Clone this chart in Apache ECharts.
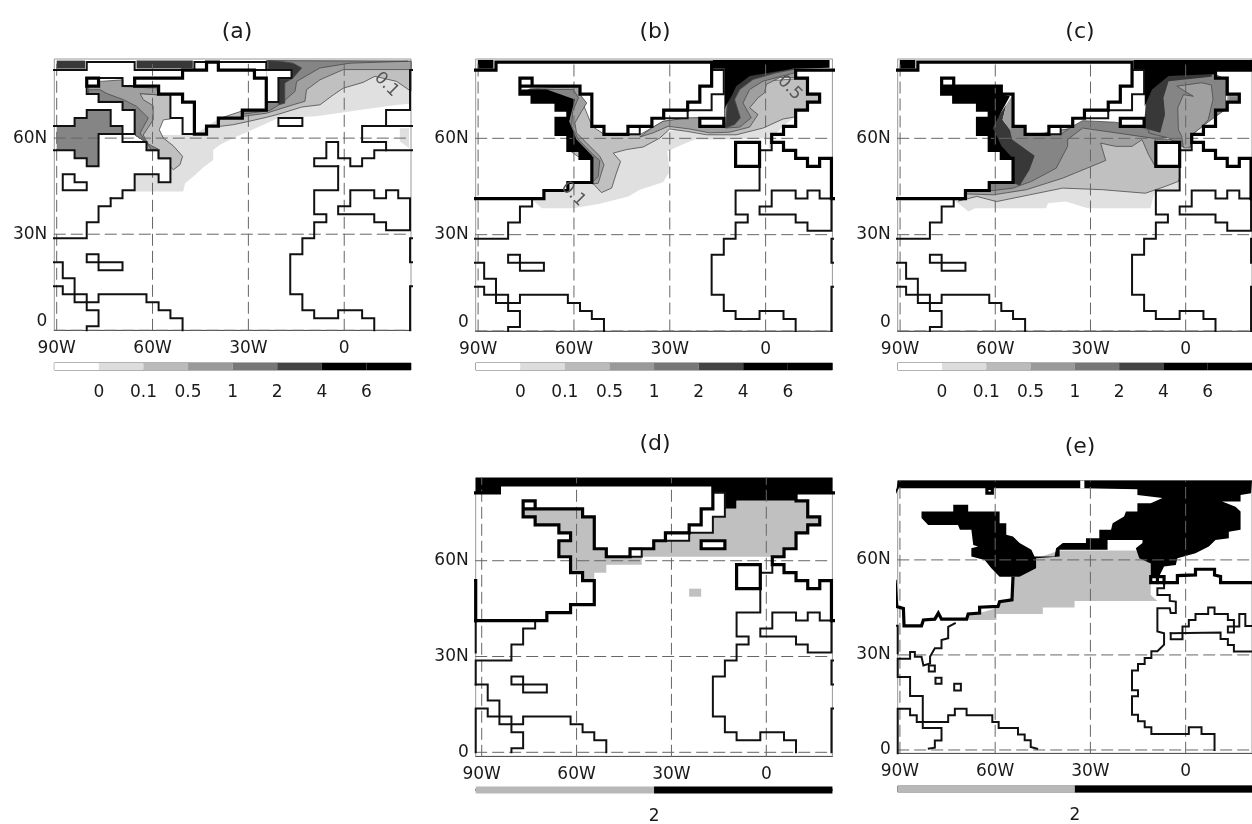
<!DOCTYPE html>
<html><head><meta charset="utf-8">
<style>html,body{margin:0;padding:0;background:#fff;overflow:hidden}#c{width:1252px;height:824px}</style>
<script src="https://cdn.jsdelivr.net/npm/echarts@6/dist/echarts.min.js"></script>
</head><body><div id="c"></div>
<script>
// ---------- tick values / labels ----------
const lonTicks=[-90,-60,-30,0], lonLabels=['90W','60W','30W','0'];
const latTicks=[0,30,60], latLabels=['0','30N','60N'];
const barLabels=['0','0.1','0.5','1','2','4','6'];
const barLabels2=['2'];
const panelNames=['(a)','(b)','(c)','(d)','(e)'];
const barUnits=[1,1,1,1,1,1,1,1];
const barUnits2=[1,1];

// ---------- shared coastlines, [lon,lat] ----------
const coastCarib=[[-91.9,21.25],[-88.1,21.25],[-88.1,16.25],[-84.4,16.25],[-84.4,8.75],[-76.9,8.75],[-76.9,11.25],[-61.9,11.25],[-61.9,8.75],[-58.1,8.75],[-58.1,6.25],[-54.4,6.25],[-54.4,3.75],[-50.6,3.75],[-50.6,0]];
const coastPacific=[[-91.9,0],[-91.9,13.75],[-88.1,13.75],[-88.1,11.25],[-80.6,11.25],[-80.6,6.25],[-76.9,6.25],[-76.9,1.25],[-80.6,1.25],[-80.6,0]];
const coastGulf=[[-73.1,41.25],[-73.1,38.75],[-76.9,38.75],[-76.9,33.75],[-80.6,33.75],[-80.6,28.75],[-91.9,28.75],[-91.9,21.25]];
const coastCuba=[[-80.6,23.75],[-76.9,23.75],[-76.9,21.25],[-69.4,21.25],[-69.4,18.75],[-76.9,18.75],[-76.9,21.25],[-80.6,21.25],[-80.6,23.75]];
const coastAfrica=[[9.4,0],[9.4,3.75],[5.6,3.75],[5.6,6.25],[-1.9,6.25],[-1.9,3.75],[-9.4,3.75],[-9.4,6.25],[-13.1,6.25],[-13.1,11.25],[-16.9,11.25],[-16.9,23.75],[-13.1,23.75],[-13.1,28.75],[-9.4,28.75],[-9.4,33.75],[-5.6,33.75],[-5.6,36.25],[-9.4,36.25],[-9.4,43.75],[-1.9,43.75],[-1.9,51.25]];
const coastMed=[[-1.9,38.75],[1.9,38.75],[1.9,43.75],[9.4,43.75],[9.4,41.25],[13.1,41.25],[13.1,43.75],[16.9,43.75],[16.9,41.25],[20.6,41.25],[20.6,31.25],[13.1,31.25],[13.1,33.75],[9.4,33.75],[9.4,36.25],[-1.9,36.25],[-1.9,38.75]];
const stubRightA=[[22.5,28.75],[20.6,28.75],[20.6,21.25],[22.5,21.25]];
const stubRightB=[[22.5,13.75],[20.6,13.75],[20.6,0]];
const stubLeft=[[-93.4,41.25],[-91.9,41.25],[-91.9,31.25]];

// ---------- panel (a) coast ----------
const aCoastLabrador=[[-73.1,41.25],[-69.4,41.25],[-69.4,43.75],[-65.6,43.75],[-65.6,48.75],[-58.1,48.75],[-58.1,46.25],[-54.4,46.25],[-54.4,53.75],[-58.1,53.75],[-58.1,56.25],[-61.9,56.25],[-61.9,58.75],[-69.4,58.75],[-69.4,61.25],[-76.9,61.25],[-76.9,51.25],[-80.6,51.25],[-80.6,53.75],[-84.4,53.75],[-84.4,56.25],[-91.9,56.25],[-91.9,53.75],[-93.4,53.75]];
const aCoastHudson=[[-93.4,63.75],[-84.4,63.75],[-84.4,66.25],[-80.6,66.25],[-80.6,68.75],[-73.1,68.75],[-73.1,63.75],[-69.4,63.75],[-69.4,61.25]];
const aCoastArctic=[[-93.4,68.75],[-91.9,68.75],[-91.9,81.25],[-80.6,81.25],[-80.6,83.75],[-65.6,83.75],[-65.6,81.25],[-50.6,81.25]];
const aCoastNfld=[[-88.1,48.75],[-84.4,48.75],[-84.4,46.25],[-80.6,46.25],[-80.6,43.75],[-88.1,43.75],[-88.1,48.75]];
const aCoastBaffin=[[-80.6,76.25],[-80.6,73.75],[-76.9,73.75],[-76.9,71.25],[-69.4,71.25],[-69.4,68.75],[-65.6,68.75],[-65.6,61.25],[-69.4,61.25]];
const aCoastBaffinTop=[[-76.9,78.75],[-69.4,78.75],[-69.4,76.25],[-65.6,76.25]];
const aCoastGreenW=[[-54.4,73.75],[-54.4,66.25],[-50.6,66.25],[-50.6,61.25],[-46.9,61.25]];
const aCoastGreenE=[[-46.9,81.25],[-46.9,83.75],[-43.1,83.75]];
const aCoastGreenTop=[[-39.4,83.75],[-24.4,83.75],[-24.4,81.25],[-16.5,81.25],[-16.5,78.75],[-20.6,78.75],[-20.6,71.25],[-24.4,71.25]];
const aCoastGreenTop2=[[-28.1,81.25],[-24.4,81.25]];
const aCoastIceland=[[-20.6,66.25],[-13.1,66.25],[-13.1,63.75],[-20.6,63.75],[-20.6,66.25]];
const aCoastEurope=[[-1.9,51.25],[-9.4,51.25],[-9.4,53.75],[-5.6,53.75],[-5.6,58.75],[-1.9,58.75],[-1.9,53.75],[1.9,53.75],[1.9,51.25],[5.6,51.25],[5.6,53.75],[9.4,53.75],[9.4,56.25],[13.1,56.25],[13.1,58.75],[5.6,58.75],[5.6,63.75],[13.1,63.75],[13.1,68.75],[20.6,68.75],[20.6,81.25],[22.5,81.25]];
const aCoastEurope2=[[13.1,56.25],[22.5,56.25]];
const aCoastEurope3=[[13.1,63.75],[22.5,63.75]];
const aThickGreen=[[-65.6,78.75],[-65.6,76.25],[-58.1,76.25],[-58.1,73.75],[-50.6,73.75],[-50.6,71.25],[-46.9,71.25],[-46.9,61.25],[-43.1,61.25],[-43.1,63.75],[-39.4,63.75],[-39.4,66.25],[-31.9,66.25],[-31.9,68.75],[-24.4,68.75],[-24.4,78.75],[-28.1,78.75],[-28.1,81.25],[-39.4,81.25],[-39.4,83.75],[-43.1,83.75],[-43.1,81.25],[-50.6,81.25],[-50.6,78.75],[-65.6,78.75]];
const aThickBox=[[-80.6,78.75],[-76.9,78.75],[-76.9,76.25],[-80.6,76.25],[-80.6,78.75]];

// ---------- panels (b)(c)(d) coast ----------
const bThickWest=[[-93.75,81.25],[-84.4,81.25],[-84.4,83.75],[-16.9,83.75],[-16.9,76.25],[-20.6,76.25],[-20.6,71.25],[-24.4,71.25],[-24.4,68.75],[-31.9,68.75],[-31.9,66.25],[-35.6,66.25],[-35.6,63.75],[-43.1,63.75],[-43.1,61.25],[-50.6,61.25],[-50.6,63.75],[-54.4,63.75],[-54.4,73.75],[-58.1,73.75],[-58.1,76.25],[-76.9,76.25],[-76.9,78.75],[-73.1,78.75],[-73.1,76.25],[-76.9,76.25],[-76.9,73.75],[-73.1,73.75],[-73.1,71.25],[-65.6,71.25],[-65.6,68.75],[-61.9,68.75],[-61.9,66.25],[-65.6,66.25],[-65.6,61.25],[-61.9,61.25],[-61.9,56.25],[-58.1,56.25],[-58.1,53.75],[-54.4,53.75],[-54.4,46.25],[-61.9,46.25],[-61.9,43.75],[-69.4,43.75],[-69.4,41.25],[-93.75,41.25]];
const bThickLeft=[[-91.9,41.25],[-91.9,53.75],[-93.75,53.75]];
const bThickEast=[[22.5,81.25],[9.4,81.25],[9.4,78.75],[13.1,78.75],[13.1,73.75],[16.9,73.75],[16.9,71.25],[13.1,71.25],[13.1,68.75],[9.4,68.75],[9.4,63.75],[5.6,63.75],[5.6,61.25],[1.9,61.25],[1.9,58.75],[5.6,58.75],[5.6,56.25],[9.4,56.25],[9.4,53.75],[13.1,53.75],[13.1,51.25],[16.9,51.25],[16.9,53.75],[20.6,53.75],[20.6,41.25],[22.5,41.25]];
const bThickIceland=[[-20.6,66.25],[-13.1,66.25],[-13.1,63.75],[-20.6,63.75],[-20.6,66.25]];
const bThickUK=[[-9.4,58.75],[-1.9,58.75],[-1.9,51.25],[-9.4,51.25],[-9.4,58.75]];
const bThinGreen=[[-16.9,81.25],[-13.1,81.25],[-13.1,73.75],[-16.9,73.75],[-16.9,68.75],[-24.4,68.75]];
const bThinBox=[[-31.9,68.75],[-24.4,68.75],[-24.4,66.25],[-31.9,66.25],[-31.9,68.75]];
const bThinSmall=[[-43.1,63.75],[-39.4,63.75],[-39.4,61.25],[-43.1,61.25]];
const bThinFaroe=[[-1.9,56.25],[1.9,56.25],[1.9,58.75]];
const maskGreen=[[-16.9,81.25],[-13.1,81.25],[-13.1,73.75],[-16.9,73.75],[-16.9,68.75],[-24.4,68.75],[-24.4,71.25],[-20.6,71.25],[-20.6,76.25],[-16.9,76.25]];
const maskBox=[[-31.9,68.75],[-24.4,68.75],[-24.4,66.25],[-31.9,66.25]];
const maskSmall=[[-43.1,63.75],[-39.4,63.75],[-39.4,61.25],[-43.1,61.25]];
const maskTopBox=[[-76.9,78.75],[-73.1,78.75],[-73.1,76.25],[-76.9,76.25]];
const maskIceland=[[-20.6,66.25],[-13.1,66.25],[-13.1,63.75],[-20.6,63.75]];
const maskUK=[[-9.4,58.75],[-1.9,58.75],[-1.9,51.25],[-9.4,51.25]];

// ---------- panel (a) shading ----------
const aL1=[[-69.1,43.3],[-50.4,43.3],[-49.8,45.9],[-46.7,48.5],[-44.1,50.9],[-41,53.2],[-41,56.4],[-38.9,57.9],[-34.7,60],[-30,62.1],[-25.3,64.2],[-20.6,66.3],[-8.7,66.8],[5.9,68.9],[16.9,70.4],[20.9,70.7],[20.9,81.4],[-24.3,81.4],[-24.3,68.9],[-31.6,68.6],[-39.4,66],[-43.1,63.6],[-46.9,61],[-57.7,61],[-54.4,53.5],[-54.4,45.9],[-57.9,45.9],[-57.9,48.5],[-65.5,48.5],[-65.5,43.5]];
const aL1b=[[17.4,63.1],[20.3,63.1],[20.3,56.9],[17.4,59]];
const aW2=[[-63.9,73.9],[-58.2,73.5],[-54.4,73.5],[-54.4,66],[-56.6,65.7],[-57.9,62.6],[-56.6,60],[-53.5,57.6],[-50.6,54.3],[-51.4,51.7],[-53.5,50.1],[-54.4,51.1],[-54.4,53.5],[-58.3,53.5],[-58.3,56.1],[-61.8,56.1],[-61.8,58.6],[-65.5,61],[-65.5,68.9]];
const aW3=[[-76.4,77.7],[-69.3,78.2],[-69.3,76.1],[-58.7,75.6],[-58.2,73.5],[-63.9,73.9],[-62.9,72],[-59.8,70.1],[-59.8,65.7],[-62.9,61],[-61.3,57.9],[-58.7,56.1],[-61.8,56.1],[-61.8,58.6],[-65.5,61],[-65.5,68.9],[-69.3,68.9],[-69.3,71.5],[-76.7,71.5],[-76.7,73.8],[-80,73.8],[-80,76.1]];
const aW4=[[-76.4,75.1],[-74.3,73.9],[-69.1,72],[-65,69.9],[-61.3,66.3],[-63.9,61.6],[-61.8,58.4],[-58.3,56.6],[-60.3,56.1],[-61.8,58.6],[-65.5,61],[-65.5,68.9],[-69.3,68.9],[-69.3,71.5],[-76.7,71.5],[-76.7,73.8],[-80,73.8],[-80,75.1]];
const aE2=[[-39.4,63.6],[-34.7,64.2],[-30,65.2],[-24.3,66.5],[-20.1,67.6],[-13.3,69.7],[-7.6,70.4],[-3.4,73.5],[-0.3,75.6],[5.9,77.4],[9.6,79.3],[16.4,77.7],[20.9,74.6],[20.9,84],[-24.3,84],[-24.3,68.6],[-31.6,68.6],[-39.4,66]];
const aE3=[[-31.6,68.6],[-31.6,66.8],[-24.3,67.8],[-16,70.4],[-12.3,71.5],[-11.8,75.1],[-7.6,78.2],[-0.3,81.4],[20.9,81.4],[20.9,84],[-24.3,84],[-24.3,68.6]];
const aE4=[[-31.6,68.6],[-31.6,67.5],[-23.3,68.6],[-19.6,70.9],[-15.4,74.6],[-14.9,77.7],[-7.6,81.9],[1.8,83.4],[20,84],[-24.3,84.2],[-24.3,68.6]];
const aE5=[[-23.8,84.2],[-20.1,84],[-16,83.4],[-13.3,81.9],[-16,78.8],[-18.6,77.2],[-18.6,70.9],[-20.6,70.4],[-20.6,78.5],[-16.5,78.5],[-16.5,81.1],[-23.8,81.1]];
const aHudson=[[-90,63.75],[-84.4,63.75],[-84.4,66.25],[-80.6,66.25],[-80.6,68.75],[-73.1,68.75],[-73.1,63.75],[-69.4,63.75],[-69.4,61.25],[-76.9,61.25],[-76.9,51.25],[-80.6,51.25],[-80.6,53.75],[-84.4,53.75],[-84.4,56.25],[-90,56.25]];
const aStripW=[[-90,84.2],[-81.1,84.2],[-81.1,81.7],[-90,81.7]];
const aStripM=[[-65,84.2],[-47.4,84.2],[-47.4,81.7],[-65,81.7]];
const aMaskGreen=[[-24.4,81.25],[-16.5,81.25],[-16.5,78.75],[-20.6,78.75],[-20.6,71.25],[-24.4,71.25]];

// ---------- panel (b) shading ----------
const bL1=[[-73.2,41],[-70.1,38.2],[-60.2,38.2],[-51.9,39.6],[-43,41.9],[-39.4,44],[-32.1,46.3],[-30,49.7],[-30.8,55.9],[-26.9,57.7],[-22.2,59.6],[-13.3,59.6],[1,60],[1,57],[1.8,57],[2.3,60.6],[5.4,63.75],[9.3,66.7],[-11.3,66.7],[-32.1,61.7],[-54.3,53.3],[-54.3,46.25],[-61.9,46.25],[-61.9,43.75],[-69.4,43.75],[-69.4,41.25]];
const bL2=[[-54.3,46.25],[-51.4,43.1],[-48.2,44.5],[-46.7,49.2],[-45.4,52.8],[-47.7,55.4],[-43.5,56.5],[-38.3,57.3],[-33.1,60.1],[-30,62.9],[-24.8,62.2],[-18.5,61.1],[-9.2,61.1],[-0.8,63.2],[5.4,66],[9.3,66.7],[9.3,69],[13,69],[13,71.4],[16.9,71.4],[16.9,74],[13,74],[13,78.5],[9.3,78.5],[-0.8,77.8],[-12.8,70],[-12.8,63.75],[-20.6,63.75],[-20.6,66.4],[-32.1,65.3],[-39.4,61.1],[-50.3,61.1],[-54.3,63.75],[-58.1,73.1],[-61.8,66.4],[-61.8,56.5],[-58.1,53.9],[-54.3,53.9]];
const bE3=[[-39.4,60.4],[-35.2,61.7],[-30.5,63.75],[-23.75,62.9],[-17.5,61.7],[-11.25,61.9],[-5,63.5],[-2.4,67.4],[-5,69.5],[-2.4,72.6],[-0.3,74.2],[0.2,76.8],[4.4,78.9],[9.3,78.9],[9.3,81.5],[-16.5,81.5],[-12.8,74.2],[-12.8,63.75],[-20.6,63.75],[-20.6,66.4],[-24.3,66.4],[-32.1,65.3],[-35.7,63.2]];
const bE4=[[-12.5,63.2],[-8.1,63.5],[-4.5,66.4],[-7.1,71],[-5,75.2],[-0.8,77.8],[9.1,80.4],[9.1,81.5],[-11.25,81.5]];
const bE5=[[-12.5,63.2],[-9.7,64.3],[-7.9,66.4],[-9.7,72.1],[-8.1,75.2],[-4,78.3],[3.3,80.4],[9.1,81.5],[-11.25,81.5]];
const bBlackE=[[-16.5,84.4],[20,84.4],[20,82],[8.5,81.7],[-5,79.4],[-9.2,76.25],[-10.7,73.1],[-12.5,70],[-12.8,69],[-12.8,81.7],[-16.5,81.7]];
const cornerBlack=[[-90.1,84.4],[-85.2,84.4],[-85.2,81.7],[-90.1,81.7]];
const bW3=[[-73.75,75.4],[-58.1,76.25],[-58.1,73.65],[-56,71],[-57.6,68.4],[-59.7,64.8],[-59.2,61.7],[-55,57.5],[-51.9,54.4],[-50.6,51.8],[-52.4,46],[-54.3,45.8],[-54.3,53.9],[-58.1,53.9],[-58.1,56.5],[-61.8,56.5],[-61.8,69],[-65.4,71.6],[-73,71.6],[-73,74],[-76.4,74]];
const bW4=[[-73.75,75.2],[-60.2,75.2],[-58.6,72.6],[-60.4,68.4],[-60.7,63.75],[-58.6,59.6],[-54,54.9],[-51.9,53.1],[-52.4,48.1],[-54.3,46.25],[-54.3,53.9],[-58.1,53.9],[-58.1,56.5],[-61.8,56.5],[-61.8,69],[-65.4,71.6],[-73,71.6],[-73,74],[-76.4,74]];
const bW5=[[-76.4,75.2],[-68.5,75.2],[-61.25,72.6],[-59.7,72.1],[-61.5,65.3],[-59.2,59.6],[-54.3,54.6],[-54.3,53.9],[-58.1,53.9],[-58.1,56.5],[-61.9,56.25],[-61.9,61.25],[-65.6,61.25],[-65.6,66.25],[-61.9,66.25],[-61.9,68.75],[-65.6,68.75],[-65.6,71.25],[-73.1,71.25],[-73.1,73.75],[-76.9,73.75]];

// ---------- panel (c) shading ----------
const cL1=[[-73.1,40.8],[-68.4,37.2],[-66.4,38.2],[-44,38.2],[-43.4,39.8],[-37.7,40.3],[-30.9,38.2],[-11.1,38.2],[-9.6,44],[-2.3,44],[-1.25,56.5],[1.4,57],[1.9,61.1],[9.2,66.9],[12.6,78.5],[-11.7,80.4],[-13.2,63.2],[-32.5,64.8],[-54.7,59.6],[-54.4,46.25],[-61.9,46.25],[-61.9,43.75],[-69.4,43.75],[-69.4,41.25]];
const cL2=[[-71.6,40.5],[-65.8,41.9],[-59.6,40.3],[-49.2,42.4],[-38.75,44.5],[-26.25,44],[-12.7,42.9],[-6.5,45],[-2.3,46.6],[-1.8,48.1],[-2.3,59.6],[-9.6,59.6],[-32.5,63.75],[-54.7,59.6],[-54.4,46.25],[-61.9,46.25],[-61.9,43.75],[-69.4,43.75],[-69.4,41.25]];
const cL3=[[-69.5,42.7],[-60.6,42.4],[-50.2,44],[-38.75,47.6],[-25.2,53.1],[-26.8,58.5],[-22.1,57.5],[-16.9,57.5],[-13.75,59.6],[-11.7,54.9],[-9.6,51.25],[-9.6,60],[-32.5,63.75],[-54.7,59.6],[-54.4,46.25],[-61.9,46.25],[-61.9,43.75],[-69.4,43.75]];
const cW4=[[-60.6,64.8],[-54.4,63.75],[-50.6,63.75],[-50.6,61.25],[-43.1,61.25],[-39.4,61.25],[-35.6,63.75],[-32.5,65.5],[-22.1,65],[-13.2,63.2],[-5.9,60.1],[-10.1,60],[-32.5,63.2],[-37.2,59.6],[-37.2,57.5],[-40.8,50.7],[-48.6,46.6],[-54.4,44.5],[-60.6,43.75],[-61.9,43.75],[-61.9,46.25],[-54.4,46.25],[-54.4,53.75],[-58.1,53.75],[-58.1,56.25],[-61.9,56.25],[-61.9,61.25]];
const cW5=[[-56.5,70.5],[-57.7,65.8],[-55.4,62.7],[-54.7,59.6],[-47.6,54.6],[-49.2,50.2],[-52.3,45.2],[-54.7,46.25],[-54.4,53.75],[-58.1,53.75],[-58.1,56.25],[-61.9,56.25],[-61.9,61.25],[-61.1,63.75]];
const cWBlack=[[-76.9,76.25],[-58.1,76.25],[-58.1,73.75],[-55.4,73.1],[-58,68.4],[-60.8,63.2],[-58,57.5],[-54.4,53.75],[-58.1,53.75],[-58.1,56.25],[-61.9,56.25],[-61.9,61.25],[-65.6,61.25],[-65.6,66.25],[-61.9,66.25],[-61.9,68.75],[-65.6,68.75],[-65.6,71.25],[-73.1,71.25],[-73.1,73.75],[-76.9,73.75]];
const cWStrip=[[-56.5,70.5],[-54.4,73.75],[-54.4,63.75],[-55.4,62.7],[-57.7,65.8]];
const cE4=[[-11.7,61.7],[-5.4,60.1],[-1.25,57.5],[1.4,57],[1.9,61.1],[5,63.5],[8.9,66.4],[12.6,69],[12.6,78.5],[8.9,80],[-4,80],[-10,75]];
const cE3=[[-1.25,60.6],[-2.3,62.7],[-2.5,69.5],[-0.7,73.6],[2.4,73.1],[-2.8,76.25],[5,77.3],[8.1,76.6],[8.6,72.1],[7.1,65.8],[5,63.5],[1.9,61.1],[1.4,57],[-0.7,57]];
const cE5=[[-13.2,63.2],[-8,61.7],[-6.5,67.4],[-7,72.6],[-5.4,77.8],[8.1,79.2],[8.9,81.25],[-11.7,81.25]];
const cEBlack=[[-16.4,84.4],[20.9,84.4],[20.9,81.25],[9.4,81.25],[9.4,80],[-5.4,79.4],[-10.6,75.2],[-12.9,70],[-12.9,81.25],[-16.4,81.25]];
const cNotch=[[13.1,73.75],[16.9,73.75],[16.9,71.25],[13.1,71.25]];
const cNotchIn=[[13.8,73],[16.6,73],[16.6,71.9],[13.8,71.9]];

// ---------- panel (d) shading ----------
const dBlack=[[-91.9,86],[20.9,86],[20.9,81.25],[9.4,81.25],[9.4,78.75],[-9.4,78.75],[-9.4,76.25],[-13.1,76.25],[-13.1,81.25],[-16.9,81.25],[-16.9,83.75],[-84.4,83.75],[-84.4,81.25],[-91.9,81.25]];
const dGrayW=[[-76.9,76.25],[-58.1,76.25],[-58.1,73.75],[-54.4,73.75],[-54.4,63.75],[-50.6,63.75],[-50.6,61.25],[-39.4,61.25],[-39.4,58.75],[-50.6,58.75],[-50.6,56.25],[-54.4,56.25],[-54.4,53.75],[-58.1,53.75],[-58.1,56.25],[-61.9,56.25],[-61.9,61.25],[-65.6,61.25],[-65.6,66.25],[-61.9,66.25],[-61.9,68.75],[-65.6,68.75],[-65.6,71.25],[-73.1,71.25],[-73.1,73.75],[-76.9,73.75]];
const dGrayE=[[-39.4,61.25],[-39.4,63.75],[-35.6,63.75],[-35.6,66.25],[-31.9,66.25],[-24.4,66.25],[-24.4,68.75],[-16.9,68.75],[-16.9,73.75],[-13.1,73.75],[-13.1,76.25],[-9.4,76.25],[-9.4,78.75],[9.4,78.75],[13.1,78.75],[13.1,73.75],[16.9,73.75],[16.9,71.25],[13.1,71.25],[13.1,68.75],[9.4,68.75],[9.4,63.75],[5.6,63.75],[5.6,61.25]];
const dGraySpot=[[-24.4,51.25],[-20.6,51.25],[-20.6,48.75],[-24.4,48.75]];

// ---------- panel (e) ----------
const eBlack=[[-90.7,85.05],[20.9,85.05],[20.6,81.05],[17.3,80.5],[17.3,78.4],[11.5,78.4],[15.7,76.8],[17.3,75.3],[17.3,69.5],[13.6,68.9],[13.6,66.8],[9.4,66.3],[7.3,64.2],[3.1,62.1],[-2.6,60.5],[-3.1,58.4],[-6.8,57.9],[-8.4,54.7],[-11,54.7],[-11,58.9],[-14.6,60.5],[-15.7,63.7],[-13.6,65.3],[-13.6,66.3],[-24.6,66.3],[-24.6,63.2],[-39.7,63.2],[-39.7,61.05],[-47.1,60.5],[-47.1,57.4],[-52.3,54.7],[-58.6,54.7],[-61.2,57.4],[-63.3,60],[-67.5,61.05],[-67.5,63.7],[-65.4,64.2],[-66.9,64.7],[-67.5,69.5],[-71.1,69.5],[-71.7,71.05],[-81.1,71.05],[-83.2,73.2],[-83.2,75.3],[-73.2,75.3],[-73.2,77.4],[-68.5,77.4],[-68.5,75.3],[-58.6,75.3],[-58.6,71.6],[-56.5,71.6],[-56.5,67.9],[-54.4,67.4],[-52.3,65.3],[-48.6,63.2],[-47.6,61.05],[-41.3,61.05],[-40.8,63.7],[-38.7,65.3],[-31.4,65.3],[-31.4,66.8],[-27.2,66.8],[-27.2,69.5],[-23.5,69.5],[-23,71.6],[-19.4,73.7],[-18.8,75.3],[-15.2,75.3],[-15.2,77.9],[-11,77.9],[-7.3,79.5],[-15.2,80.5],[-15.2,82.3],[-32.4,82.6],[-91,82.6]];
const eGray=[[-68.5,41.05],[-59.6,41.05],[-59.6,42.95],[-45,42.95],[-45,44.95],[-35,44.95],[-35,47.05],[-8.9,47.05],[-11,48.95],[-11,58.9],[-15.7,63],[-39.7,63],[-47.1,60.5],[-47.1,57.4],[-52.3,54.7],[-54.4,54.7],[-54.9,47.9],[-58.6,46.8],[-59.6,44.7],[-64.9,43.2],[-68.5,43]];
const eMaskNotch=[[-33.2,85.05],[-31.9,85.05],[-31.9,82.6],[-33.2,82.6]];
const eRing=[[-62.6,82.6],[-60.9,82.6],[-60.9,81.05],[-62.6,81.05],[-62.6,82.6]];
const eThickNA=[[-91.5,53.2],[-91,45.3],[-88.9,44.7],[-88.7,39.2],[-83.2,39.2],[-82.6,41.05],[-79,41.3],[-77.9,43.2],[-76.9,41.3],[-69,41.3],[-68.5,42.95],[-64.9,43.2],[-64.9,45.05],[-59.1,45.3],[-58.6,46.8],[-54.7,47.4],[-54.4,54.2]];
const eLeft=[[-91.5,39.2],[-90.7,39.2],[-90.7,30.5]];
const eStubTop=[[-91.5,81],[-90.7,82.6]];
const eGulf=[[-72.7,40],[-74.8,38.9],[-74.8,35.3],[-76.9,34.7],[-76.9,32.1],[-79,32.1],[-80.5,29.5],[-80.5,27.3],[-81.1,26.7],[-82.6,26.7],[-83.2,29.4],[-85.3,29.4],[-85.3,30.9],[-86.8,30.9],[-86.8,28.8],[-90.7,28.8],[-90.7,23.05],[-86.8,23.05],[-86.8,17],[-82.8,17],[-82.8,6.9],[-76.9,6.9],[-76.9,3],[-79,3],[-79,0.7],[-80.9,0.4]];
const eIsle1=[[-80.9,26.7],[-79,26.7],[-79,24.8],[-80.9,24.8],[-80.9,26.7]];
const eIsle2=[[-78.8,22.8],[-76.9,22.8],[-76.9,20.9],[-78.8,20.9],[-78.8,22.8]];
const eIsle3=[[-72.9,20.9],[-70.8,20.9],[-70.8,18.8],[-72.9,18.8],[-72.9,20.9]];
const eSouthAm=[[-90.7,-1.05],[-90.7,13.05],[-86.8,13.05],[-86.8,10.95],[-84.7,10.95],[-84.7,8.85],[-74.8,8.85],[-74.8,10.95],[-72.7,10.95],[-72.7,13.05],[-69,13.05],[-69,10.95],[-60.9,10.95],[-60.9,8.85],[-58.9,8.85],[-58.9,6.95],[-52.8,6.95],[-52.8,4.85],[-50.7,4.85],[-50.7,3.05],[-48.8,3.05],[-48.8,0.95],[-46.8,0.4]];
const eAfrica=[[9.1,0],[9.1,5.05],[5,5.05],[5,7.15],[1,7.15],[1,5.05],[-10.8,5.05],[-10.8,7.15],[-12.9,7.15],[-12.9,9.05],[-15,9.05],[-15,11.15],[-16.9,11.15],[-16.9,16.95],[-15,16.95],[-15,18.85],[-16.9,18.85],[-16.9,25.05],[-15,25.05],[-15,27.15],[-12.9,27.15],[-12.9,29.05],[-10.8,29.05],[-10.8,31.15],[-8.9,31.15],[-6.8,33.25],[-6.8,36.85],[-8.9,37.4],[-8.9,44.75],[-5,44.75],[-4.7,43.2],[-3.1,43.2],[-3.1,46.85],[-5,47.05],[-5,48.95],[-8.9,48.95],[-8.9,51.05],[-6.8,51.05],[-6.8,52.85]];
const eEuropeThick=[[-6.8,52.85],[-2.6,52.85],[-2.6,55.05],[3.1,55.25],[3.1,57.05],[9.1,57.05],[9.1,55.25],[11,54.75],[11,52.85],[20.9,52.85]];
const eBoxes=[[-11,54.75],[-6.8,54.75],[-6.8,52.85],[-11,52.85],[-11,54.75]];
const eBoxDivide=[[-8.9,54.75],[-8.9,52.85]];
const eMaskBoxA=[[-10.4,54.3],[-9.3,54.3],[-9.3,53.2],[-10.4,53.2]];
const eMaskBoxB=[[-8.5,54.3],[-7.3,54.3],[-7.3,53.2],[-8.5,53.2]];
const eMedN=[[-4.7,36.85],[-4.7,34.95],[-1,34.95],[-1,38.95],[1,38.95],[1,41.05],[3.1,41.05],[3.1,42.95],[7.1,42.95],[7.1,44.95],[9.1,44.95],[9.1,42.95],[13.3,42.95],[13.3,41.05],[15.2,41.05],[15.2,37.05],[13.3,37.05],[13.3,38.95],[16.9,38.95],[16.9,42.95],[18.8,42.95],[18.8,39.15],[20.9,39.15]];
const eMedS=[[-4.7,36.85],[11,37.05],[11,35.05],[13.3,35.05],[13.3,33.15],[15.2,33.15],[15.2,31.05],[20.9,31.05]];

// ---------- contour labels: lon, lat, text ----------
const aContourLabels=[[13.2,76.7,'0.1']];
const bContourLabels=[[7.5,75.7,'0.5'],[-60.2,42.6,'0.1']];

// ---------- styles and layout (not data) ----------
const shade=['#ffffff','#e0e0e0','#c0c0c0','#a0a0a0','#858585','#383838','#000000'];
const barShade=['#ffffff','#dddddd','#bbbbbb','#999999','#777777','#444444','#000000','#000000'];
const barShade2=['#b8b8b8','#000000'];
const font='"DejaVu Sans",sans-serif';
const lowerThin=[coastCarib,coastPacific,coastGulf,coastCuba,coastAfrica,coastMed,stubRightA,stubRightB,stubLeft];
const bcdThick=[bThickWest,bThickLeft,bThickEast,bThickIceland,bThickUK];
const bcdThin=[...lowerThin,bThinGreen,bThinBox,bThinSmall,bThinFaroe];
const bcdMasks=[[maskGreen,0],[maskBox,0],[maskSmall,0],[maskTopBox,0],[maskIceland,0],[maskUK,0]];
const panels=[
 {left:54.3,top:59,w:356.7,h:271.3,lon:[-90.75,20.9],lat:[0,84.7],bar:363,barH:7,barMargin:14,cells:barUnits,shades:barShade,labels:barLabels,minBottom:true,
  fills:[[aL1,1,0],[aL1b,1,0],[aW2,2,1],[aW3,3,1],[aW4,4,1],[aE2,2,1],[aE3,3,1],[aE4,4,1],[aE5,5,1],[aHudson,4,0],[aStripW,5,0],[aStripM,5,0],[aMaskGreen,0,0],[maskIceland,0,0],[aThickBox,0,0]],
  thin:[...lowerThin,aCoastLabrador,aCoastHudson,aCoastArctic,aCoastNfld,aCoastBaffin,aCoastBaffinTop,aCoastGreenW,aCoastGreenE,aCoastGreenTop,aCoastGreenTop2,aCoastIceland,aCoastEurope,aCoastEurope2,aCoastEurope3],
  thick:[aThickGreen,aThickBox],texts:aContourLabels},
 {left:475.7,top:59,w:356.7,h:272,lon:[-90.75,20.9],lat:[0,84.7],bar:363,barH:7,barMargin:14,cells:barUnits,shades:barShade,labels:barLabels,minBottom:true,
  fills:[[bL1,1,0],[bL2,2,1],[bE3,3,1],[bE4,4,1],[bE5,5,1],[bW3,3,1],[bW4,4,1],[bW5,6,0],[bBlackE,6,0],[cornerBlack,6,0],...bcdMasks.map(m=>[m[0],0,0])],
  thin:bcdThin,thick:bcdThick,texts:bContourLabels},
 {left:897.7,top:59,w:356.7,h:272,lon:[-90.75,20.9],lat:[0,84.7],bar:363,barH:7,barMargin:14,cells:barUnits,shades:barShade,labels:barLabels,minBottom:true,
  fills:[[cL1,1,0],[cL2,2,1],[cL3,3,1],[cW4,4,1],[cW5,5,0],[cWBlack,6,0],[cWStrip,3,0],[cE4,4,1],[cE3,3,1],[cE5,5,0],[cEBlack,6,0],[cNotch,3,0],[cNotchIn,4,0],[cornerBlack,6,0],...bcdMasks.map(m=>[m[0],0,0])],
  thin:bcdThin,thick:bcdThick,texts:[]},
 {left:475.7,top:477.7,w:356.7,h:278.6,lon:[-91.9,20.9],lat:[-1.25,86],bar:789,barH:7,barMargin:17,cells:barUnits2,shades:barShade2,labels:barLabels2,
  fills:[[dBlack,6,0],[dGrayW,2,0],[dGrayE,2,0],[dGraySpot,2,0],...bcdMasks.map(m=>[m[0],0,0])],
  thin:bcdThin,thick:bcdThick,texts:[]},
 {left:897.7,top:480.7,w:356.7,h:272.6,lon:[-90.7,20.9],lat:[-1.05,85],bar:786,barH:7,barMargin:15,cells:barUnits2,shades:barShade2,labels:barLabels2,
  fills:[[eGray,2,0],[eBlack,6,0],[eMaskNotch,0,0],[eRing,0,0],[eMaskBoxA,0,0],[eMaskBoxB,0,0]],
  thin:[eLeft,eStubTop,eGulf,eIsle1,eIsle2,eIsle3,eSouthAm,eAfrica,eMedN,eMedS],
  thick:[eThickNA,eEuropeThick,eRing,eBoxes,eBoxDivide],texts:[]}
];
const titlePos=[[232,16],[650,16],[1075,16],[650,428],[1075,431]];

const grid=[],xAxis=[],yAxis=[],series=[],title=[];
function lineSeries(data,i,width,color,dash,z){
  return {type:'line',xAxisIndex:i,yAxisIndex:i,data:data,showSymbol:false,symbol:'none',clip:false,silent:true,animation:false,z:z,
    lineStyle:{width:width,color:color,type:dash||'solid',join:'miter',cap:'square'}};
}
panels.forEach((p,n)=>{
  const i=grid.length;
  grid.push({left:p.left,top:p.top,width:p.w,height:p.h,show:true,borderColor:'#999',borderWidth:1,backgroundColor:'transparent'});
  xAxis.push({gridIndex:i,type:'value',min:p.lon[0],max:p.lon[1],splitLine:{show:false},
    axisLine:{show:true,onZero:false,lineStyle:{color:'#555',width:1}},
    axisTick:{show:false},
    axisLabel:{customValues:lonTicks,formatter:v=>lonLabels[lonTicks.indexOf(v)],color:'#1a1a1a',fontFamily:font,fontSize:17,margin:10}});
  yAxis.push({gridIndex:i,type:'value',min:p.lat[0],max:p.lat[1],splitLine:{show:false},
    axisLine:{show:false,onZero:false},
    axisTick:{show:false},
    axisLabel:Object.assign({customValues:latTicks,formatter:v=>latLabels[latTicks.indexOf(v)],color:'#1a1a1a',fontFamily:font,fontSize:17,margin:7},p.minBottom?{verticalAlignMinLabel:'bottom'}:{})});
  // shaded regions
  series.push({type:'custom',xAxisIndex:i,yAxisIndex:i,coordinateSystem:'cartesian2d',silent:true,animation:false,clip:false,z:2,
    data:p.fills.map((f,k)=>[k]),
    encode:{x:0},
    renderItem:(params,api)=>{
      const f=p.fills[params.dataIndex];
      return {type:'polygon',shape:{points:f[0].map(q=>api.coord(q))},
        style:{fill:shade[f[1]],stroke:f[2]?'#4a4a4a':null,lineWidth:f[2]?0.8:0}};
    }});
  // graticule
  lonTicks.forEach(v=>series.push(lineSeries([[v,p.lat[0]],[v,p.lat[1]]],i,1,'#666',[11,6],3)));
  latTicks.forEach(v=>series.push(lineSeries([[p.lon[0],v],[p.lon[1],v]],i,1,'#666',[11,6],3)));
  // coast
  p.thin.forEach(c=>series.push(lineSeries(c,i,2,'#111',null,4)));
  p.thick.forEach(c=>series.push(lineSeries(c,i,3.2,'#000',null,5)));
  // contour labels
  if(p.texts.length) series.push({type:'custom',xAxisIndex:i,yAxisIndex:i,silent:true,animation:false,clip:false,z:6,
    data:p.texts.map((t,k)=>[k]),encode:{x:0},
    renderItem:(params,api)=>{
      const t=p.texts[params.dataIndex],c=api.coord([t[0],t[1]]);
      return {type:'text',x:c[0],y:c[1],rotation:-Math.PI/4,
        style:{text:t[2],fill:'#555',font:'17px '+font,textAlign:'center',textVerticalAlign:'middle'}};
    }});
  // colour bar
  const j=grid.length;
  const total=p.cells.length;
  grid.push({left:p.left,top:p.bar,width:p.w,height:p.barH,show:true,borderColor:'#666',borderWidth:1});
  const ticks=total===2?[1]:[1,2,3,4,5,6,7];
  xAxis.push({gridIndex:j,type:'value',min:0,max:total,splitLine:{show:false},axisLine:{show:false},axisTick:{show:false},
    axisLabel:{customValues:ticks,formatter:v=>p.labels[ticks.indexOf(v)],color:'#1a1a1a',fontFamily:font,fontSize:17,margin:p.barMargin}});
  yAxis.push({gridIndex:j,type:'category',data:['bar'],show:false,boundaryGap:true});
  p.cells.forEach((u,k)=>series.push({type:'bar',xAxisIndex:j,yAxisIndex:j,stack:'bar'+n,data:[u],barWidth:p.barH,clip:false,silent:true,animation:false,
    itemStyle:{color:p.shades[k]}}));
  title.push({text:panelNames[n],left:titlePos[n][0],top:titlePos[n][1],textAlign:'center',
    textStyle:{fontFamily:font,fontSize:22,fontWeight:'normal',color:'#1a1a1a'}});
});
const chart=echarts.init(document.getElementById('c'),null,{renderer:'canvas'});
chart.setOption({animation:false,backgroundColor:'#fff',tooltip:{show:false},title,grid,xAxis,yAxis,series});
</script></body></html>
